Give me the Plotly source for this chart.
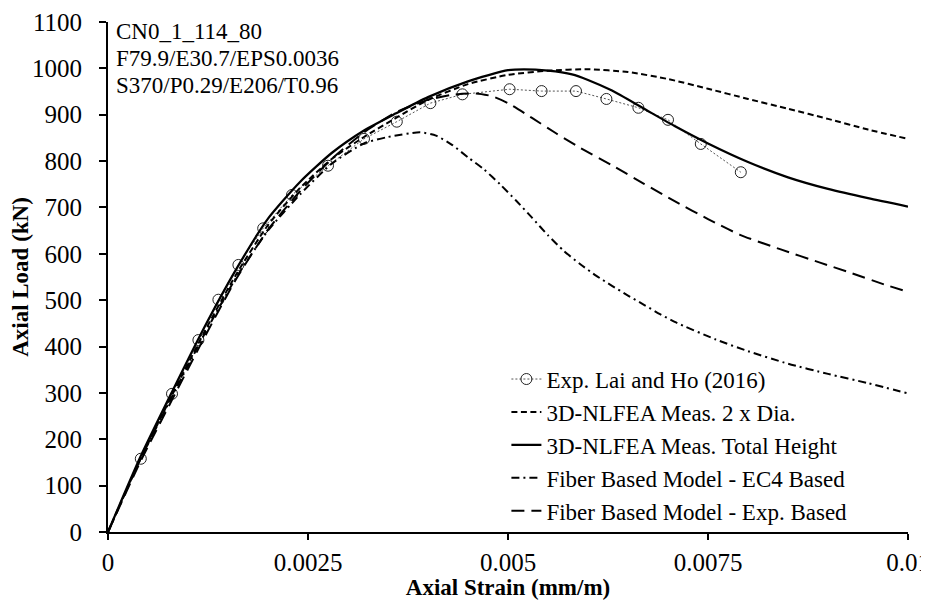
import plotly.graph_objects as go

# Experimental data (Lai and Ho 2016)
exp_strain = [0.00041, 0.0008, 0.00113, 0.00138, 0.00163, 0.00194, 0.0023, 0.00275, 0.0032, 0.00361,
              0.00403, 0.00443, 0.00502, 0.00542, 0.00585, 0.00623, 0.00663, 0.0070, 0.00741, 0.00791]
exp_load = [158, 298, 414, 501, 576, 655, 727, 790, 848, 885,
            925, 944, 955, 951, 951, 934, 915, 889, 837, 776]

# 3D-NLFEA Meas. 2 x Dia.
dia_strain = [0, 0.0004, 0.0008, 0.0012, 0.0016, 0.002, 0.0024, 0.0028, 0.0032, 0.0036, 0.004, 0.0045,
              0.005, 0.0055, 0.006, 0.0065, 0.007, 0.0075, 0.008, 0.0085, 0.009, 0.0095, 0.01]
dia_load = [0, 155, 295, 430, 555, 662, 742, 805, 852, 893, 932, 966,
            986, 995, 998, 992, 977, 956, 934, 913, 891, 868, 848]

# 3D-NLFEA Meas. Total Height
tot_strain = [0, 0.0004, 0.0008, 0.0012, 0.0016, 0.002, 0.0024, 0.0028, 0.0032, 0.0036, 0.004, 0.0045,
              0.005, 0.0052, 0.0055, 0.0058, 0.006, 0.0063, 0.0067, 0.0071, 0.0075, 0.008, 0.0085,
              0.009, 0.0095, 0.01]
tot_load = [0, 160, 302, 440, 566, 676, 755, 818, 866, 903, 938, 972,
            996, 998, 995, 987, 975, 952, 913, 874, 838, 798, 765,
            740, 720, 702]

# Fiber Based Model - EC4 Based
ec4_strain = [0, 0.0004, 0.0008, 0.0012, 0.0016, 0.002, 0.0024, 0.0028, 0.0032, 0.0035, 0.0039,
              0.0041, 0.0043, 0.0045, 0.0047, 0.0049, 0.0051, 0.0053, 0.0055, 0.0057, 0.0059,
              0.0061, 0.0063, 0.0065, 0.0067, 0.0069, 0.0071, 0.0076, 0.008, 0.0085, 0.009, 0.0095, 0.01]
ec4_load = [0, 155, 292, 425, 548, 650, 728, 795, 838, 852, 862,
            855, 835, 808, 782, 750, 715, 678, 640, 606, 578,
            553, 531, 510, 490, 470, 452, 415, 390, 363, 341, 321, 299]

# Fiber Based Model - Exp. Based
fbe_strain = [0, 0.0004, 0.0008, 0.0012, 0.0016, 0.002, 0.0024, 0.0028, 0.0032, 0.0036, 0.004,
              0.0043, 0.0046, 0.0048, 0.005, 0.0053, 0.0056, 0.0059, 0.0063, 0.0067, 0.0071,
              0.0075, 0.0079, 0.0084, 0.0089, 0.0093, 0.0097, 0.01]
fbe_load = [0, 150, 285, 418, 545, 652, 735, 805, 862, 905, 932,
            943, 946, 940, 925, 893, 860, 829, 791, 751, 712,
            675, 641, 610, 581, 558, 534, 518]

x_tickvals = [0, 0.0025, 0.005, 0.0075, 0.01]
x_ticktext = ["0", "0.0025", "0.005", "0.0075", "0.01"]
y_tickvals = list(range(0, 1101, 100))

annotation_lines = ["CN0_1_114_80", "F79.9/E30.7/EPS0.0036", "S370/P0.29/E206/T0.96"]

FONT = "Liberation Serif"
FS_TICK = 25
FS_TEXT = 23
FS_TITLE = 23

fig = go.Figure()
fig.add_trace(go.Scatter(
    x=exp_strain, y=exp_load, mode="lines+markers", name="Exp. Lai and Ho (2016)",
    line=dict(color="#555555", width=1, dash="2px,2px"),
    marker=dict(symbol="circle-open", size=11, color="#222222", line=dict(width=1))))
fig.add_trace(go.Scatter(
    x=dia_strain, y=dia_load, mode="lines", name="3D-NLFEA Meas. 2 x Dia.",
    line=dict(color="black", width=2, dash="6px,3.5px", shape="spline", smoothing=0.6)))
fig.add_trace(go.Scatter(
    x=tot_strain, y=tot_load, mode="lines", name="3D-NLFEA Meas. Total Height",
    line=dict(color="black", width=2.25, shape="spline", smoothing=0.6)))
fig.add_trace(go.Scatter(
    x=ec4_strain, y=ec4_load, mode="lines", name="Fiber Based Model - EC4 Based",
    line=dict(color="black", width=2, dash="8px,4px,2px,4px", shape="spline", smoothing=0.6)))
fig.add_trace(go.Scatter(
    x=fbe_strain, y=fbe_load, mode="lines", name="Fiber Based Model - Exp. Based",
    line=dict(color="black", width=2, dash="13px,7px", shape="spline", smoothing=0.6)))

ann_y = [0.981, 0.929, 0.876]
for txt, yy in zip(annotation_lines, ann_y):
    fig.add_annotation(text=txt, xref="paper", yref="paper", x=0.0075, y=yy,
                       xanchor="left", yanchor="middle", showarrow=False,
                       font=dict(family=FONT, size=FS_TEXT, color="black"))

fig.update_layout(
    width=921, height=592,
    margin=dict(l=100, r=21, t=14, b=68, autoexpand=False),
    paper_bgcolor="white", plot_bgcolor="white",
    font=dict(family=FONT, size=FS_TEXT, color="black"),
    showlegend=True,
    legend=dict(x=0.498, y=0.342, xanchor="left", yanchor="top",
                bgcolor="rgba(0,0,0,0)", font=dict(family=FONT, size=FS_TEXT, color="black"),
                tracegroupgap=0),
    xaxis=dict(range=[0, 0.01], tickvals=x_tickvals, ticktext=x_ticktext, automargin=False,
               showgrid=False, zeroline=False, showline=True, linecolor="black", linewidth=2,
               ticks="outside", ticklen=6, tickwidth=2, tickcolor="black",
               ticklabeloverflow="allow",
               ticklabelstandoff=1, tickfont=dict(family=FONT, size=FS_TICK, color="black"),
               title=dict(text="<b>Axial Strain (mm/m)</b>", standoff=4,
                          font=dict(family=FONT, size=FS_TITLE, color="black"))),
    yaxis=dict(range=[0, 1100], tickvals=y_tickvals, automargin=False,
               showgrid=False, zeroline=False, showline=True, linecolor="black", linewidth=2,
               ticks="outside", ticklen=7, tickwidth=2, tickcolor="black",
               ticklabelstandoff=12, tickfont=dict(family=FONT, size=FS_TICK, color="black"),
               title=dict(text="<b>Axial Load (kN)</b>", standoff=0,
                          font=dict(family=FONT, size=FS_TITLE, color="black"))),
)

fig.write_html("out.html")
